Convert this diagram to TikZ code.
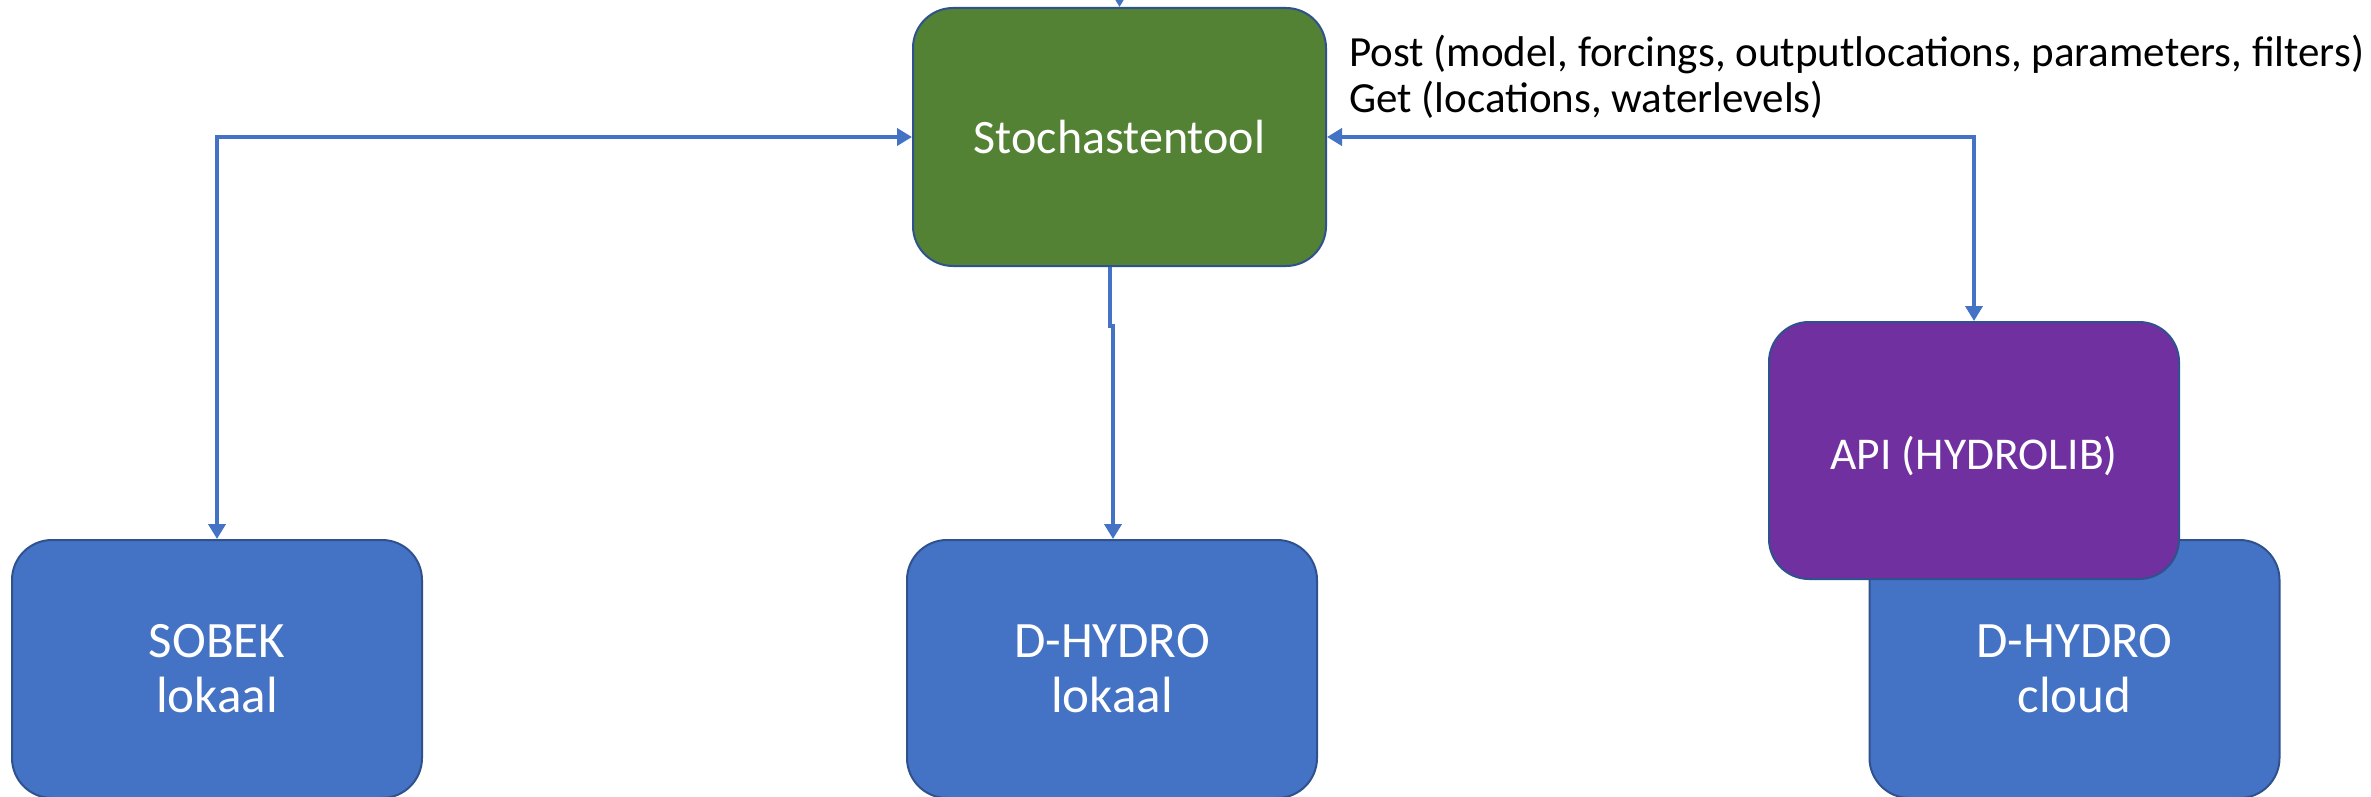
\documentclass[tikz,border=0pt]{standalone}
\usepackage{fontspec}
\setmainfont{Carlito}
\usetikzlibrary{arrows.meta}
\definecolor{boxblue}{HTML}{4472C4}
\definecolor{boxgreen}{HTML}{548235}
\definecolor{boxpurple}{HTML}{7030A0}
\definecolor{edgeblue}{HTML}{2F528F}
\definecolor{linkblue}{HTML}{4472C4}
\tikzset{
  box/.style={draw=edgeblue, line width=2pt, rounded corners=40pt, minimum width=410pt,
    minimum height=258pt, inner sep=0pt, text=white, align=center,
    font=\fontsize{51}{55}\selectfont},
  conn/.style={draw=linkblue, line width=4.5pt},
  tip/.style={-{Triangle[length=15pt,width=17pt]}},
  tips/.style={{Triangle[length=15pt,width=17pt]}-{Triangle[length=15pt,width=17pt]}},
}
\begin{document}
\begin{tikzpicture}[x=1pt,y=-1pt]
\useasboundingbox (0,0) rectangle (2371,797);
\clip (0,0) rectangle (2371,797);
\fill[white] (0,0) rectangle (2371,797);
% nodes
\node[box, fill=boxgreen, minimum width=413pt, font=\fontsize{48}{55}\selectfont] (stoch) at (1119.5,137) {Stochastentool};
\node[box, fill=boxblue] (sobek) at (217,669) {SOBEK\\lokaal};
\node[box, fill=boxblue] (dloc) at (1112,669) {D-HYDRO\\lokaal};
\node[box, fill=boxblue] (dcloud) at (2074.5,669) {D-HYDRO\\cloud};
\node[box, fill=boxpurple, minimum height=257pt, text height=48pt, text depth=10pt, font=\fontsize{45.5}{55}\selectfont] (api) at (1974,450.5) {API (HYDROLIB)};
\node[anchor=west, align=left, inner sep=0pt, font=\fontsize{43}{46}\selectfont] (lbl) at (1349,77)
  {Post (model, forcings, outputlocations, parameters, filters)\\Get (locations, waterlevels)};
\coordinate (topin) at (1119.5,-40);
% connectors
\draw[conn, tip] (topin) -- (stoch.north);
\draw[conn, tips] (stoch.west) -| (sobek.north);
\draw[conn, tips] (stoch.east) -| (api.north);
\draw[conn, tip] ([xshift=-2pt]dloc.north |- stoch.south) -- ++(0,59) -- ++(3,0) -- ([xshift=1pt]dloc.north);
\end{tikzpicture}
\end{document}
